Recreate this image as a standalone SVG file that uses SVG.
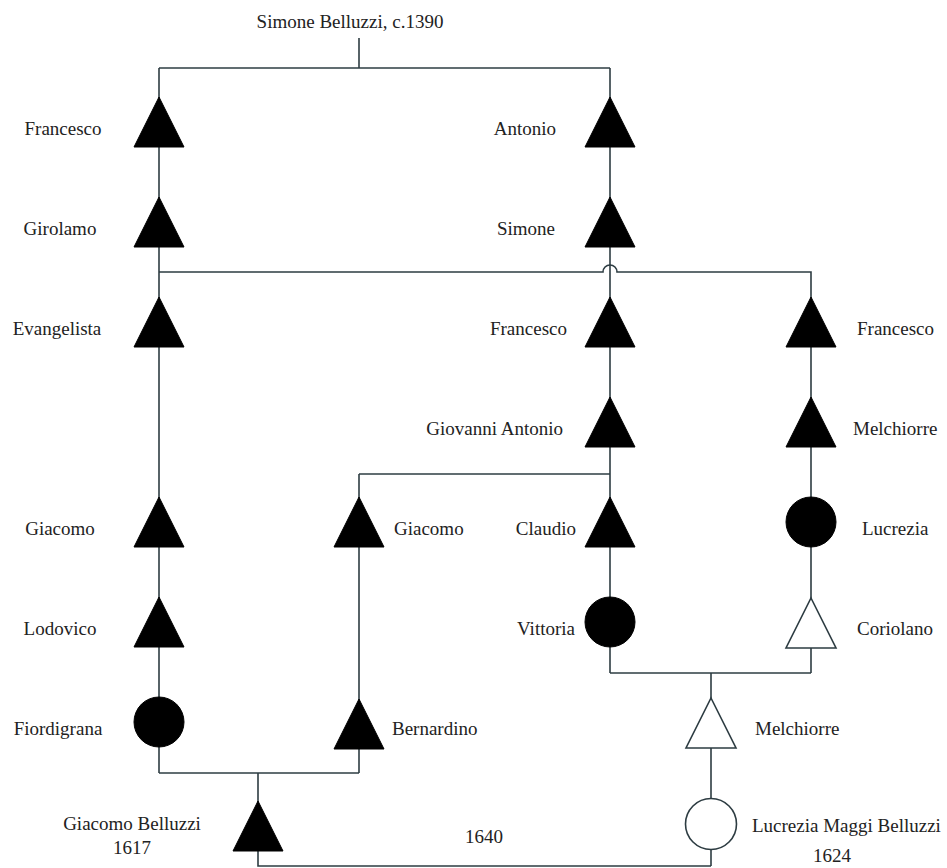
<svg xmlns="http://www.w3.org/2000/svg" width="947" height="868" viewBox="0 0 947 868">
<style>
  .ln { fill: none; stroke: #2d3c42; stroke-width: 1.6; }
  .blk { fill: #000; stroke: #000; stroke-width: 1; }
  .wht { fill: #fff; stroke: #2d3c42; stroke-width: 1.6; }
  text { font-family: "Liberation Serif", "Times New Roman", serif; font-size: 19px; fill: #222; }
  .e { text-anchor: end; }
  .m { text-anchor: middle; }
</style>
<defs>
  <path id="tri" d="M0 0 L25 50 L-25 50 Z"/>
</defs>
<rect width="947" height="868" fill="#fff"/>
<g id="connectors">
  <path class="ln" d="M359 38 V68"/>
  <path class="ln" d="M159 68 H610"/>
  <path class="ln" d="M159 68 V773"/>
  <path class="ln" d="M610 68 V673"/>
  <path class="ln" d="M159 272 H603 A7 7 0 0 1 617 272 H811 V673"/>
  <path class="ln" d="M359 474 H610"/>
  <path class="ln" d="M359 474 V773"/>
  <path class="ln" d="M610 673 H811"/>
  <path class="ln" d="M711 673 V866"/>
  <path class="ln" d="M159 773 H359"/>
  <path class="ln" d="M258 773 V866 H711"/>
</g>
<g id="root"><text x="350" y="28" class="m">Simone Belluzzi, c.1390</text></g>
<g id="francesco-l"><use href="#tri" class="blk" x="159" y="97"/><text x="63" y="135" class="m">Francesco</text></g>
<g id="girolamo"><use href="#tri" class="blk" x="159" y="197"/><text x="60" y="235" class="m">Girolamo</text></g>
<g id="evangelista"><use href="#tri" class="blk" x="159" y="297"/><text x="57" y="335" class="m">Evangelista</text></g>
<g id="giacomo-l"><use href="#tri" class="blk" x="159" y="497"/><text x="60" y="535" class="m">Giacomo</text></g>
<g id="lodovico"><use href="#tri" class="blk" x="159" y="597"/><text x="60" y="635" class="m">Lodovico</text></g>
<g id="fiordigrana"><circle cx="159" cy="722" r="25" class="blk"/><text x="58" y="735" class="m">Fiordigrana</text></g>
<g id="antonio"><use href="#tri" class="blk" x="610" y="97"/><text x="556" y="135" class="e">Antonio</text></g>
<g id="simone"><use href="#tri" class="blk" x="610" y="197"/><text x="555" y="235" class="e">Simone</text></g>
<g id="francesco-m"><use href="#tri" class="blk" x="610" y="297"/><text x="567" y="335" class="e">Francesco</text></g>
<g id="giovanni-antonio"><use href="#tri" class="blk" x="610" y="397"/><text x="563" y="435" class="e">Giovanni Antonio</text></g>
<g id="claudio"><use href="#tri" class="blk" x="610" y="497"/><text x="576" y="535" class="e">Claudio</text></g>
<g id="vittoria"><circle cx="610" cy="622" r="25" class="blk"/><text x="575" y="635" class="e">Vittoria</text></g>
<g id="francesco-r"><use href="#tri" class="blk" x="811" y="297"/><text x="857" y="335">Francesco</text></g>
<g id="melchiorre-r"><use href="#tri" class="blk" x="811" y="397"/><text x="853" y="435">Melchiorre</text></g>
<g id="lucrezia"><circle cx="811" cy="522" r="25" class="blk"/><text x="862" y="535">Lucrezia</text></g>
<g id="coriolano"><use href="#tri" class="wht" x="811" y="598"/><text x="857" y="635">Coriolano</text></g>
<g id="giacomo-m"><use href="#tri" class="blk" x="359" y="497"/><text x="394" y="535">Giacomo</text></g>
<g id="bernardino"><use href="#tri" class="blk" x="359" y="699"/><text x="392" y="735">Bernardino</text></g>
<g id="melchiorre"><use href="#tri" class="wht" x="711" y="698"/><text x="755" y="735">Melchiorre</text></g>
<g id="lucrezia-maggi"><circle cx="711" cy="824" r="25.5" class="wht"/><text x="752" y="832">Lucrezia Maggi Belluzzi</text><text x="832" y="862" class="m">1624</text></g>
<g id="giacomo-belluzzi"><use href="#tri" class="blk" x="258" y="801"/><text x="132" y="830" class="m">Giacomo Belluzzi</text><text x="132" y="854" class="m">1617</text></g>
<g id="marriage"><text x="484" y="843" class="m">1640</text></g>
</svg>
